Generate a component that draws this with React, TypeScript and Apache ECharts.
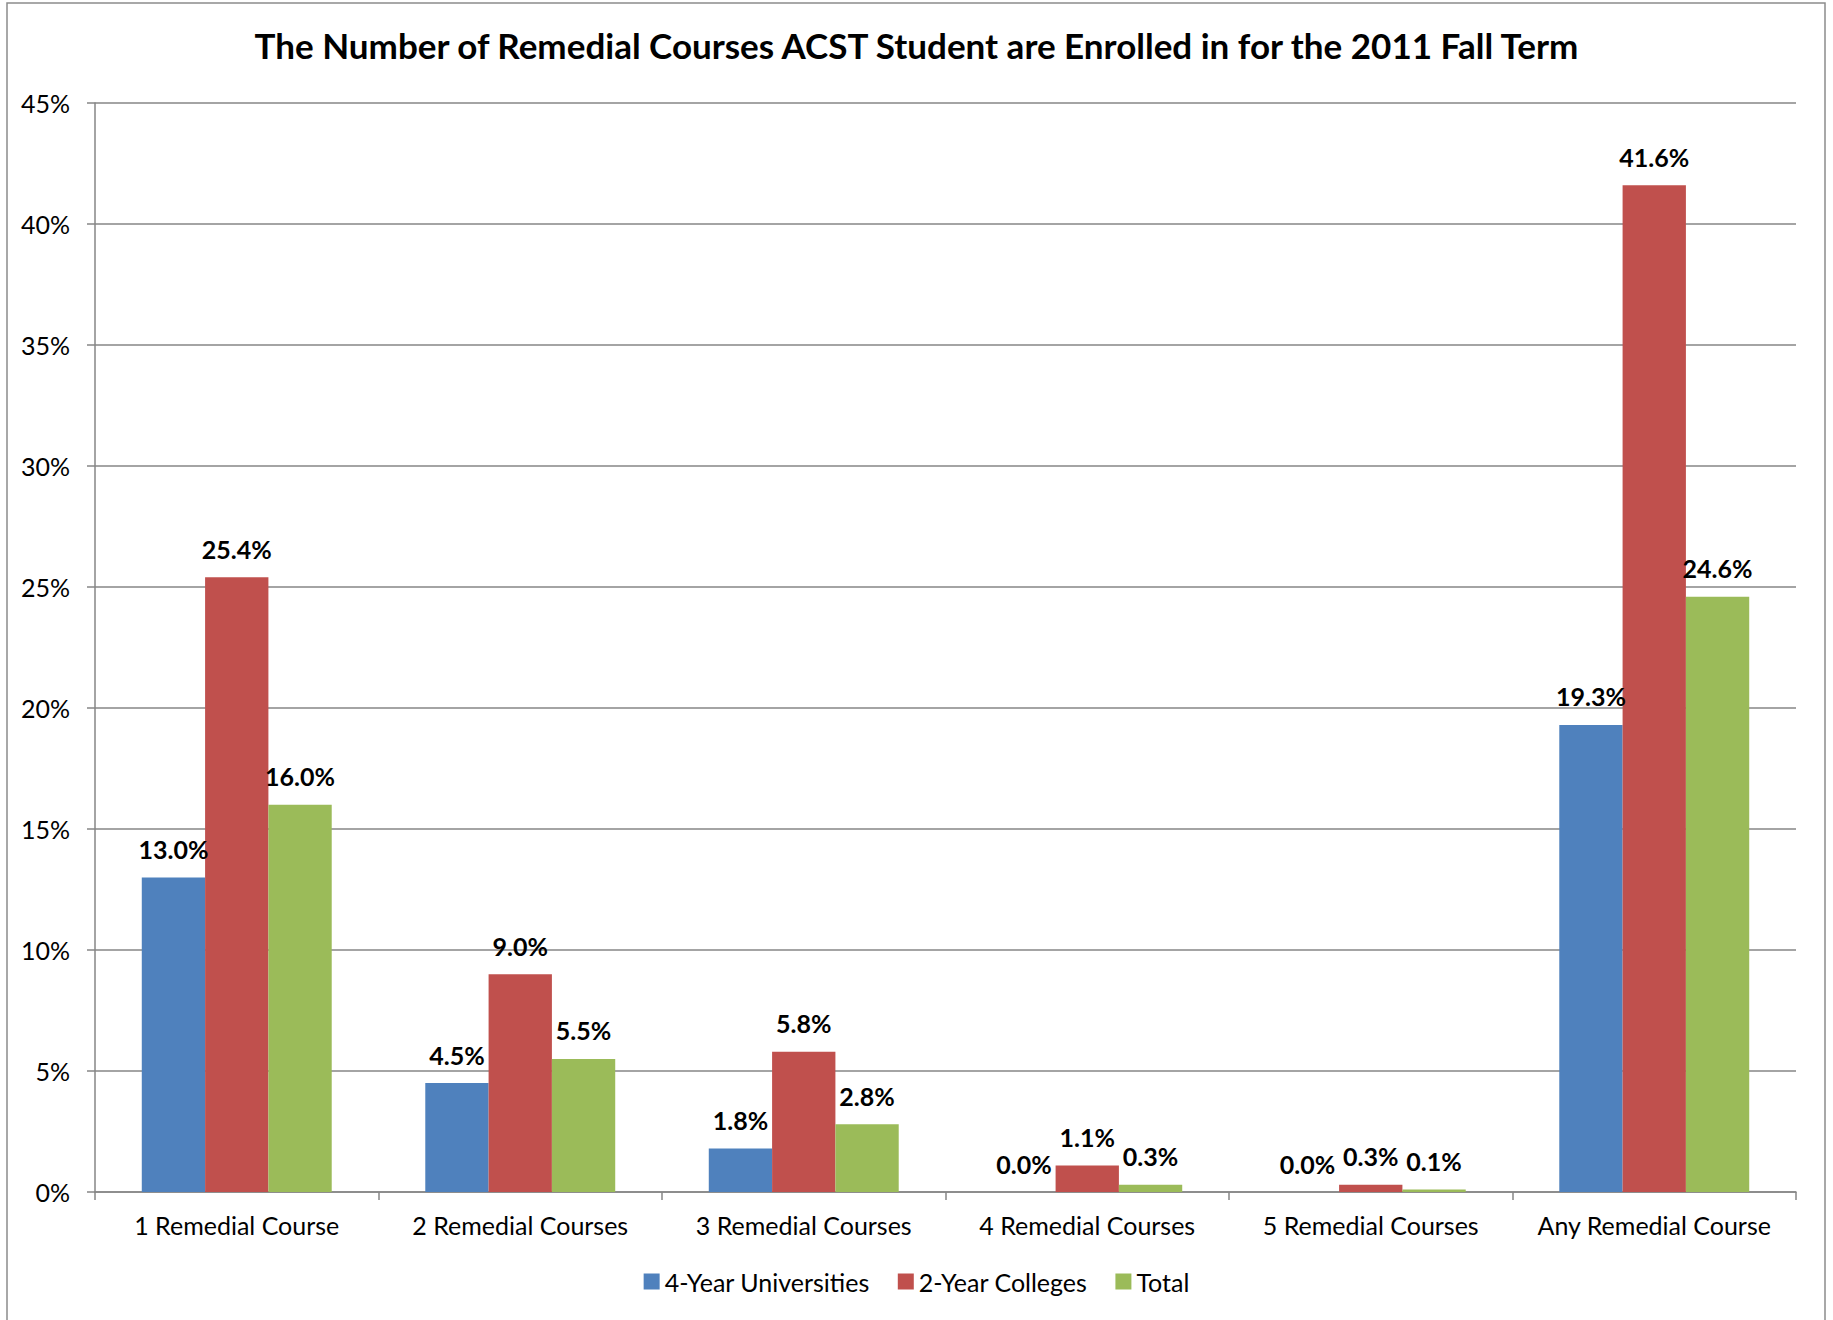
import React, { useEffect, useRef } from "react";
import * as echarts from "echarts";

const categories = [
  "1 Remedial Course",
  "2 Remedial Courses",
  "3 Remedial Courses",
  "4 Remedial Courses",
  "5 Remedial Courses",
  "Any Remedial Course",
];
const fourYear = [13.0, 4.5, 1.8, 0.0, 0.0, 19.3];
const twoYear = [25.4, 9.0, 5.8, 1.1, 0.3, 41.6];
const total = [16.0, 5.5, 2.8, 0.3, 0.1, 24.6];
const seriesNames = ["4-Year Universities", "2-Year Colleges", "Total"];
const colors = ["#4F81BD", "#C0504D", "#9BBB59"];
const titleText =
  "The Number of Remedial Courses ACST Student are Enrolled in for the 2011 Fall Term";

const FONT = "Lato, 'Open Sans', sans-serif";

export default function App() {
  const ref = useRef<HTMLDivElement>(null);
  useEffect(() => {
    document.body.style.margin = "0";
    const chart = echarts.init(ref.current!, null, { renderer: "svg" });
    const dataSets = [fourYear, twoYear, total];
    chart.setOption({
      animation: false,
      backgroundColor: "#ffffff",
      textStyle: { fontFamily: FONT },
      title: {
        text: titleText,
        left: "center",
        top: 27,
        padding: 0,
        textStyle: { fontFamily: FONT, fontSize: 35, fontWeight: "bold", color: "#000" },
      },
      graphic: [
        {
          type: "rect",
          shape: { x: 7, y: 3, width: 1818, height: 1340 },
          style: { fill: "none", stroke: "#8c8c8c", lineWidth: 1.5 },
          silent: true,
        },
      ],
      legend: {
        data: seriesNames,
        bottom: 21,
        left: "center",
        icon: "rect",
        itemWidth: 16,
        itemHeight: 16,
        itemGap: 28,
        textStyle: { fontFamily: FONT, fontSize: 25, color: "#000" },
      },
      grid: { left: 95, right: 37, top: 103, bottom: 128, containLabel: false },
      xAxis: {
        type: "category",
        data: categories,
        axisLine: { lineStyle: { color: "#868686", width: 1.5 } },
        axisTick: {
          show: true,
          length: 8,
          interval: 0,
          alignWithLabel: false,
          lineStyle: { color: "#868686", width: 1.5 },
        },
        axisLabel: { fontFamily: FONT, fontSize: 25, color: "#000", margin: 20, interval: 0 },
        splitLine: { show: false },
      },
      yAxis: {
        type: "value",
        min: 0,
        max: 45,
        interval: 5,
        axisLine: { show: true, lineStyle: { color: "#868686", width: 1.5 } },
        axisTick: { show: true, length: 8, lineStyle: { color: "#868686", width: 1.5 } },
        axisLabel: { fontFamily: FONT, fontSize: 25, color: "#000", margin: 25, formatter: "{value}%" },
        splitLine: { show: true, lineStyle: { color: "#868686", width: 1.5 } },
      },
      series: seriesNames.map((name, i) => ({
        name,
        type: "bar",
        data: dataSets[i],
        barGap: "0%",
        barCategoryGap: "33%",
        itemStyle: { color: colors[i] },
        label: {
          show: true,
          position: "top",
          distance: 16,
          fontFamily: FONT,
          fontSize: 25,
          fontWeight: "bold",
          color: "#000",
          formatter: (p: any) => Number(p.value).toFixed(1) + "%",
        },
      })),
    });
    return () => chart.dispose();
  }, []);
  return <div ref={ref} style={{ width: 1833, height: 1320 }} />;
}
